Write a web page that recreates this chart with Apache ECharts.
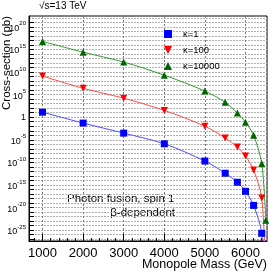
<!DOCTYPE html>
<html><head><meta charset="utf-8">
<script src="https://cdn.jsdelivr.net/npm/echarts@6/dist/echarts.min.js"></script>
<style>html,body{margin:0;padding:0;background:#fff}#c{width:274px;height:274px}</style>
</head><body><div id="c"></div>
<script>
// Monopole mass (GeV)
const masses = [1000, 2000, 3000, 4000, 5000, 5500, 5800, 6000, 6200, 6400, 6500];
// Cross-section (pb)
const kappa1     = [1.3e1, 5e-2, 3e-4, 1.3e-6, 2e-10, 4e-13, 4e-15, 4e-17, 3e-20, 2e-26, 1e-45];
const kappa100   = [1.3e9, 2.5e6, 1.6e4, 3.2e1, 1e-2, 2.5e-5, 2.5e-7, 2.5e-9, 2e-12, 1.3e-18, 1e-36];
const kappa10000 = [6e16, 2.5e14, 1.6e12, 2e9, 6e5, 2e3, 8, 8e-2, 1e-4, 6e-11, 1.6e-23];
const seriesNames = ['κ=1', 'κ=100', 'κ=10000'];
const xTickLabels = [1000, 2000, 3000, 4000, 5000, 6000];
const yLabelExps = [22, 20, 15, 10, 5, 0, -5, -10, -15, -20, -25];

const FONT = 'Liberation Sans, Arial, sans-serif';
const yTickExps = [];
for (let e = -27; e <= 22; e++) yTickExps.push(e);
const xMinor = [];
for (let m = 800; m <= 6400; m += 200) xMinor.push(m);

function toLog(arr) { return masses.map((m, i) => [m, Math.log10(arr[i])]); }

const chart = echarts.init(document.getElementById('c'), null, {renderer: 'canvas'});
const xRange = {min: 667, max: 6530};
const yRange = {min: -27.4, max: 22.4};
const GRID = {left: 29, right: 7, top: 16, bottom: 33};

chart.setOption({
  animation: false,
  textStyle: {fontFamily: FONT},
  grid: [Object.assign({show: true, borderColor: '#000', borderWidth: 1, backgroundColor: 'transparent', containLabel: false}, GRID)],
  xAxis: [{
    type: 'value', ...xRange, gridIndex: 0,
    axisLine: {show: true, onZero: false, lineStyle: {color: '#000', width: 1}},
    axisTick: {show: true, inside: true, length: 7, customValues: xTickLabels, lineStyle: {color: '#000'}},
    axisLabel: {show: true, customValues: xTickLabels, margin: 6, fontSize: 13, color: '#000', fontFamily: FONT, formatter: v => String(v)},
    splitLine: {show: true, customValues: xTickLabels, lineStyle: {color: '#777', type: [2, 2], width: 1}}
  }, {
    type: 'value', ...xRange, gridIndex: 0, position: 'bottom',
    axisLine: {show: false, onZero: false},
    axisTick: {show: true, inside: true, length: 3, customValues: xMinor, lineStyle: {color: '#000'}},
    axisLabel: {show: false},
    splitLine: {show: false}
  }],
  yAxis: [{
    type: 'value', ...yRange, gridIndex: 0,
    axisLine: {show: true, onZero: false, lineStyle: {color: '#000', width: 1}},
    axisTick: {show: true, inside: true, length: 5, customValues: yTickExps, lineStyle: {color: '#000'}},
    splitLine: {show: true, customValues: yTickExps, lineStyle: {color: '#b0b0b0', type: [2, 1], width: 1}},
    axisLabel: {
      show: true, customValues: yLabelExps, margin: 3, color: '#000',
      formatter: v => { const e = Math.round(v); return e === 0 ? '{b|1}' : '{b|10}{s|' + e + '}'; },
      rich: {
        b: {fontSize: 9, fontFamily: FONT, color: '#000', verticalAlign: 'bottom'},
        s: {fontSize: 6, fontFamily: FONT, color: '#000', verticalAlign: 'top', padding: [0, 0, 6, 0]}
      }
    }
  }],
  legend: {
    show: true, orient: 'vertical', left: 159, top: 24, itemWidth: 8, itemHeight: 8, itemGap: 6,
    textStyle: {fontSize: 9.5, color: '#000', fontFamily: FONT, padding: [0, 0, 0, 6]},
    data: [
      {name: seriesNames[0], icon: 'rect', itemStyle: {color: '#0000ff'}},
      {name: seriesNames[1], icon: 'path://M0,0 L10,0 L5,10 Z', itemStyle: {color: '#ff0000'}},
      {name: seriesNames[2], icon: 'triangle', itemStyle: {color: '#006600'}}
    ]
  },
  series: [
    {name: seriesNames[0], type: 'line', data: toLog(kappa1), smooth: 0.3, clip: true,
      symbol: 'rect', symbolSize: 7, itemStyle: {color: '#0000ff'}, lineStyle: {color: '#4d4dff', width: 1}},
    {name: seriesNames[1], type: 'line', data: toLog(kappa100), smooth: 0.3, clip: true,
      symbol: 'triangle', symbolRotate: 180, symbolSize: 7, itemStyle: {color: '#ff0000'}, lineStyle: {color: '#ff4d4d', width: 1}},
    {name: seriesNames[2], type: 'line', data: toLog(kappa10000), smooth: 0.3, clip: true,
      symbol: 'triangle', symbolSize: 7, itemStyle: {color: '#006600'}, lineStyle: {color: '#339933', width: 1}}
  ],
  graphic: [
    {type: 'text', left: 39, top: 1, style: {text: '√s=13 TeV', fontSize: 10, fill: '#000', fontFamily: FONT}},
    {type: 'text', x: 67, y: 199, style: {text: 'Photon fusion, spin 1', fontSize: 11.5, fill: '#000', fontFamily: FONT, textAlign: 'left', textVerticalAlign: 'middle'}},
    {type: 'text', x: 175, y: 213, style: {text: 'β-dependent', fontSize: 11.5, fill: '#000', fontFamily: FONT, textAlign: 'right', textVerticalAlign: 'middle'}},
    {type: 'text', x: 267, y: 265, style: {text: 'Monopole Mass (GeV)', fontSize: 12.5, fill: '#000', fontFamily: FONT, textAlign: 'right', textVerticalAlign: 'middle'}},
    {type: 'text', x: 7, y: 16, rotation: Math.PI / 2, style: {text: 'Cross-section (pb)', fontSize: 11.5, fill: '#000', fontFamily: FONT, textAlign: 'right', textVerticalAlign: 'middle'}}
  ]
});
</script></body></html>
